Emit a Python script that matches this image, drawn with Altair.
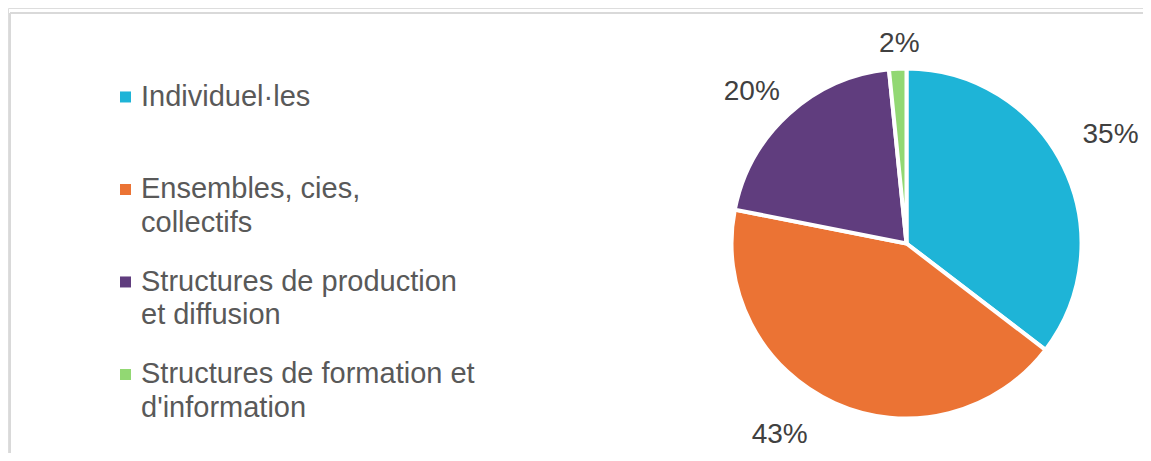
import math
import altair as alt
import pandas as pd

categories = [
    "Individuel·les",
    "Ensembles, cies,\ncollectifs",
    "Structures de production\net diffusion",
    "Structures de formation et\nd'information",
]
values = [35.4, 42.7, 20.3, 1.6]
labels = ["35%", "43%", "20%", "2%"]
colors = ["#1EB4D7", "#EB7334", "#603D7E", "#92D873"]

df = pd.DataFrame({
    "cat": categories,
    "value": values,
    "label": labels,
    "rank": list(range(len(categories))),
})

W, H = 1135, 445
CX, CY = 898.5, 235.5
FONT = "Liberation Sans"

base = alt.Chart(df)

pie = base.mark_arc(radius=175, stroke="white", strokeWidth=4).encode(
    theta=alt.Theta("value:Q", stack=True),
    order=alt.Order("rank:Q"),
    color=alt.Color(
        "cat:N",
        sort=categories,
        scale=alt.Scale(domain=categories, range=colors),
        legend=alt.Legend(
            title=None,
            orient="none",
            legendX=103,
            legendY=83,
            padding=0,
            symbolType="M-1,-2.55H1V-0.55H-1Z",
            symbolSize=121,
            symbolStrokeWidth=0,
            symbolOpacity=1,
            labelFont=FONT,
            labelFontSize=29,
            labelColor="#595959",
            labelBaseline="alphabetic",
            labelOffset=1,
            labelLimit=1000,
            gridAlign="all",
            rowPadding=29.5,
            labelExpr="split(datum.label, '\\n')",
        ),
    ),
    x=alt.value(CX),
    y=alt.value(CY),
)

label_style = [
    (232, -4, -6),
    (228, -33, -16),
    (218, -8, 10),
    (202, 3, 2),
]

layers = [pie]
for i, (r, dx, dy) in enumerate(label_style):
    t = (
        base.transform_joinaggregate(total="sum(value)")
        .transform_window(cum="sum(value)", sort=[alt.SortField("rank")])
        .transform_calculate(mid="(datum.cum - datum.value / 2) / datum.total")
        .transform_filter(f"datum.rank == {i}")
        .mark_text(radius=r, dx=dx, dy=dy, font=FONT, fontSize=28,
                   color="#404040", align="center", baseline="middle")
        .encode(
            theta=alt.Theta("mid:Q", scale=alt.Scale(domain=[0, 1], range=[0, 2 * math.pi])),
            text="label:N",
            x=alt.value(CX),
            y=alt.value(CY),
        )
    )
    layers.append(t)

border_df = pd.DataFrame({"a": [0]})
top_rule = alt.Chart(border_df).mark_rule(color="#d9d9d9", strokeWidth=2).encode(
    x=alt.value(2), x2=alt.value(W), y=alt.value(5)
)
left_rule = alt.Chart(border_df).mark_rule(color="#d9d9d9", strokeWidth=2).encode(
    x=alt.value(2), y=alt.value(5), y2=alt.value(H)
)
layers += [top_rule, left_rule]

chart = (
    alt.layer(*layers)
    .resolve_scale(theta="independent")
    .properties(width=W, height=H, autosize=alt.AutoSizeParams(type="none"), padding=0)
    .configure_view(stroke=None)
    .configure(background="white", style={"guide-label": {"lineHeight": 33.5}})
)

chart.save("out.html", embed_options={"renderer": "svg", "actions": False})
